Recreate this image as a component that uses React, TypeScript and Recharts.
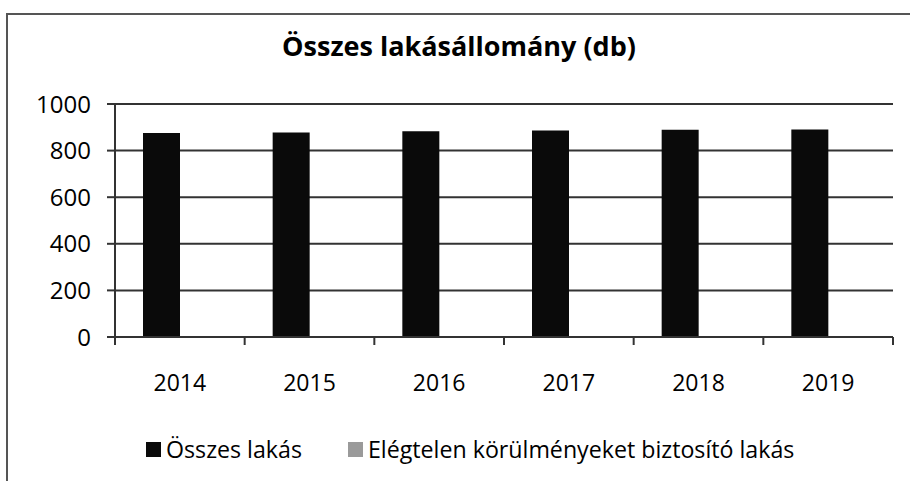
import React from 'react';
import { BarChart, Bar, XAxis, YAxis, CartesianGrid } from 'recharts';

const years = ['2014', '2015', '2016', '2017', '2018', '2019'];
const osszesLakas = [876, 878, 883, 886, 889, 891];
const elegtelenLakas = [0, 0, 0, 0, 0, 0];
const yTicks = [0, 200, 400, 600, 800, 1000];
const title = 'Összes lakásállomány (db)';
const seriesNames = ['Összes lakás', 'Elégtelen körülményeket biztosító lakás'];
const seriesColors = ['#0a0a0a', '#9a9a9a'];

const data = years.map((y, i) => ({ year: y, osszes: osszesLakas[i], elegtelen: elegtelenLakas[i] }));

const FONT = '"Open Sans", sans-serif';
const W = 910;
const H = 481;
const M = { top: 104, right: 17, left: 0, bottom: 60 };
const YW = 115;
const plotW = W - M.left - M.right - YW;
const band = plotW / years.length;

const XTick = (props: any) => {
  const { x, y, payload, index } = props;
  const lines = [
    <line key="l" x1={x - band / 2} x2={x - band / 2} y1={y} y2={y + 8} stroke="#333" strokeWidth={2} />,
  ];
  if (index === years.length - 1) {
    lines.push(<line key="r" x1={x + band / 2} x2={x + band / 2} y1={y} y2={y + 8} stroke="#333" strokeWidth={2} />);
  }
  return (
    <g>
      {lines}
      <text x={x} y={y + 54} textAnchor="middle" fontFamily={FONT} fontSize={23} fill="#000">
        {payload.value}
      </text>
    </g>
  );
};

export default function App() {
  return (
    <div style={{ position: 'relative', width: W, height: H, background: '#fff', overflow: 'hidden' }}>
      <style>{`body{margin:0;}`}</style>
      <div
        style={{
          position: 'absolute',
          left: 6,
          top: 13,
          width: W + 20,
          height: H + 20,
          borderLeft: '2px solid #555',
          borderTop: '2px solid #555',
        }}
      />
      <div
        style={{
          position: 'absolute',
          left: 0,
          width: W,
          top: 27,
          paddingLeft: 8,
          boxSizing: 'border-box',
          textAlign: 'center',
          fontFamily: FONT,
          fontWeight: 700,
          fontSize: 27,
          color: '#000',
          lineHeight: '38px',
        }}
      >
        {title}
      </div>
      <div style={{ position: 'absolute', left: 0, top: 0 }}>
        <BarChart width={W} height={H} data={data} margin={M} barGap={0} barSize={37}>
          <CartesianGrid vertical={false} stroke="#333" strokeWidth={2} />
          <XAxis
            dataKey="year"
            axisLine={{ stroke: '#333', strokeWidth: 2 }}
            tickLine={false}
            tickSize={0}
            tickMargin={0}
            tick={<XTick />}
            interval={0}
            height={84}
          />
          <YAxis
            domain={[0, 1000]}
            ticks={yTicks}
            interval={0}
            width={YW}
            axisLine={{ stroke: '#333', strokeWidth: 2 }}
            tickLine={{ stroke: '#333', strokeWidth: 2 }}
            tickSize={8}
            tickMargin={16}
            tick={{ fontFamily: FONT, fontSize: 24, fill: '#000' }}
          />
          <Bar dataKey="osszes" name={seriesNames[0]} fill={seriesColors[0]} isAnimationActive={false} />
          <Bar dataKey="elegtelen" name={seriesNames[1]} fill={seriesColors[1]} isAnimationActive={false} />
        </BarChart>
      </div>
      <div
        style={{
          position: 'absolute',
          left: 0,
          top: 433,
          width: W,
          display: 'flex',
          justifyContent: 'flex-start',
          fontFamily: FONT,
          fontSize: 23.2,
          color: '#000',
          lineHeight: '32px',
        }}
      >
        {seriesNames.map((n, i) => (
          <div key={n} style={{ display: 'flex', alignItems: 'center', marginLeft: i === 0 ? 146 : 46 }}>
            <span style={{ display: 'inline-block', width: 15, height: 15, background: seriesColors[i], marginRight: 5 }} />
            <span>{n}</span>
          </div>
        ))}
      </div>
    </div>
  );
}
